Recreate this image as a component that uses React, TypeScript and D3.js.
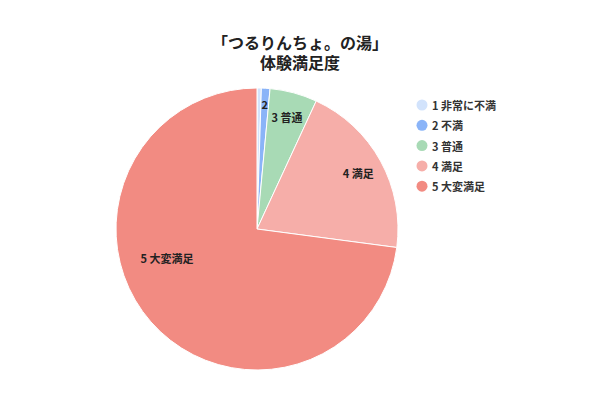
import * as d3 from "d3";
import { useEffect, useRef } from "react";

const width = 600;
const height = 400;

const titleLines = ["「つるりんちょ。の湯」", "体験満足度"];
const categories = ["1 非常に不満", "2 不満", "3 普通", "4 満足", "5 大変満足"];
const sliceLabels = ["", "2", "3 普通", "4 満足", "5 大変満足"];
const counts = [1, 2, 11, 41, 148];
const colors = ["#d2e3fc", "#8ab4f8", "#a8dab5", "#f6aea9", "#f28b82"];

const font = "'Noto Sans CJK JP', 'Noto Sans', sans-serif";

function drawChart(el: SVGSVGElement) {
  const svg = d3.select(el);
  svg.selectAll("*").remove();

  const cx = 257;
  const cy = 229;
  const r = 141;

  const pie = d3
    .pie<number>()
    .sort(null)
    .value((d) => d);
  const arcs = pie(counts);
  const arc = d3.arc<d3.PieArcDatum<number>>().innerRadius(0).outerRadius(r);
  const total = d3.sum(counts);

  const g = svg.append("g").attr("transform", `translate(${cx},${cy})`);

  g.selectAll("path.slice")
    .data(arcs)
    .join("path")
    .classed("slice", true)
    .attr("d", arc)
    .attr("fill", (d, i) => colors[i])
    .attr("stroke", "#fff")
    .attr("stroke-width", 1);

  // slice labels: thin slices push their label outwards,
  // the big slice gets its label pulled towards the lower left
  const biggest = d3.maxIndex(counts);
  g.selectAll("text.slice-label")
    .data(arcs)
    .join("text")
    .classed("slice-label", true)
    .attr("transform", (d, i) => {
      let a = (d.startAngle + d.endAngle) / 2;
      let rr = d.value / total < 0.02 ? r * 0.89 : r * 0.82;
      if (i === biggest) {
        a = d.startAngle + (d.endAngle - d.startAngle) * 0.59;
        rr = r * 0.67;
      }
      return `translate(${Math.sin(a) * rr},${-Math.cos(a) * rr})`;
    })
    .attr("text-anchor", "middle")
    .attr("dominant-baseline", "central")
    .style("font-family", font)
    .style("font-size", "11px")
    .style("font-weight", "bold")
    .attr("fill", "#222")
    .text((d, i) => sliceLabels[i]);

  // title
  svg
    .append("g")
    .selectAll("text")
    .data(titleLines)
    .join("text")
    .attr("x", 300)
    .attr("y", (d, i) => 42 + i * 20)
    .attr("text-anchor", "middle")
    .attr("dominant-baseline", "central")
    .style("font-family", font)
    .style("font-size", "16px")
    .style("font-weight", "bold")
    .attr("fill", "#222")
    .text((d) => d);

  // legend
  const legendRows = svg
    .append("g")
    .attr("transform", "translate(422,105)")
    .selectAll("g")
    .data(categories)
    .join("g")
    .attr("transform", (d, i) => `translate(0,${i * 20.3})`);

  legendRows
    .append("circle")
    .attr("r", 5.5)
    .attr("fill", (d, i) => colors[i]);

  legendRows
    .append("text")
    .attr("x", 10)
    .attr("dominant-baseline", "central")
    .style("font-family", font)
    .style("font-size", "11px")
    .style("font-weight", "bold")
    .attr("fill", "#333")
    .text((d) => d);
}

export default function App() {
  const ref = useRef<SVGSVGElement>(null);

  useEffect(() => {
    if (ref.current) drawChart(ref.current);
  }, []);

  return (
    <svg
      ref={ref}
      width={width}
      height={height}
      style={{ position: "absolute", left: 0, top: 0, background: "#fff" }}
    />
  );
}
